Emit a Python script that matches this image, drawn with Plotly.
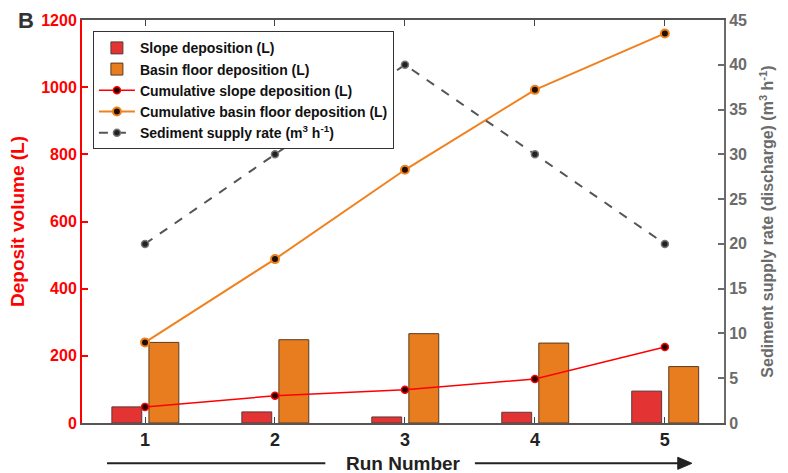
import plotly.graph_objects as go

# Run data
runs = [1, 2, 3, 4, 5]
slope_deposition = [48, 33, 18, 32, 95]            # L per run
basin_deposition = [240, 248, 266, 238, 168]       # L per run
cum_slope = [48, 81, 99, 131, 226]                 # L cumulative
cum_basin = [240, 488, 754, 992, 1160]             # L cumulative
supply_rate = [20, 30, 40, 30, 20]                 # m3/h

left_ticks = [0, 200, 400, 600, 800, 1000, 1200]
right_ticks = [0, 5, 10, 15, 20, 25, 30, 35, 40, 45]

RED = "#ff0000"
GRAY = "#6b6b6b"
FONT = "Liberation Sans"
NARROW = "Liberation Sans Narrow, Liberation Sans"

fig = go.Figure()

fig.add_trace(go.Bar(
    x=runs, y=slope_deposition, name="<b>Slope deposition (L)</b>",
    width=0.23, offset=-0.255,
    marker=dict(color="#e33333", line=dict(color="#5a3a3a", width=1)),
    yaxis="y",
))
fig.add_trace(go.Bar(
    x=runs, y=basin_deposition, name="<b>Basin floor deposition (L)</b>",
    width=0.23, offset=0.03,
    marker=dict(color="#e77d1f", line=dict(color="#5a3a20", width=1)),
    yaxis="y",
))
fig.add_trace(go.Scatter(
    x=runs, y=cum_slope, name="<b>Cumulative slope deposition (L)</b>",
    mode="lines+markers",
    line=dict(color=RED, width=1.5),
    marker=dict(color="#200000", size=7, line=dict(color=RED, width=1.5)),
    yaxis="y",
))
fig.add_trace(go.Scatter(
    x=runs, y=cum_basin, name="<b>Cumulative basin floor deposition (L)</b>",
    mode="lines+markers",
    line=dict(color="#f0821e", width=2),
    marker=dict(color="#201000", size=8, line=dict(color="#f0821e", width=2)),
    yaxis="y",
))
fig.add_trace(go.Scatter(
    x=runs, y=supply_rate, name="<b>Sediment supply rate (m<sup>3</sup> h<sup>-1</sup>)</b>",
    mode="lines+markers",
    line=dict(color="#555555", width=2, dash="dash"),
    marker=dict(color="#222222", size=7, line=dict(color="#777777", width=1.5)),
    yaxis="y2",
))

fig.update_layout(
    width=788, height=473,
    margin=dict(l=82, r=64, t=18, b=50),
    paper_bgcolor="white", plot_bgcolor="white",
    barmode="overlay",
    showlegend=True,
    legend=dict(
        x=0.017, y=0.972, xanchor="left", yanchor="top",
        bordercolor="#333333", borderwidth=1, bgcolor="white",
        font=dict(family=FONT, size=14, color="#111111"),
        tracegroupgap=0, itemwidth=36,
    ),
    xaxis=dict(
        range=[0.515, 5.455], tickvals=runs, ticktext=[str(r) for r in runs],
        ticks="inside", ticklen=6, tickcolor="#444444",
        showline=True, linecolor="#555555", linewidth=1.5, mirror="ticks",
        showgrid=False, zeroline=False,
        tickfont=dict(family=NARROW, size=18, color="#222222", weight="bold"),
    ),
    yaxis=dict(
        range=[0, 1200], tickvals=left_ticks,
        ticks="inside", ticklen=6, tickcolor=RED, tickwidth=1.5,
        showline=True, linecolor=RED, linewidth=2,
        showgrid=False, zeroline=False,
        tickfont=dict(family=FONT, size=16, color=RED, weight="bold"),
        title=dict(text="<b>Deposit volume (L)</b>", font=dict(family=FONT, size=19, color=RED), standoff=12),
    ),
    yaxis2=dict(
        range=[0, 45], tickvals=right_ticks, overlaying="y", side="right",
        ticks="inside", ticklen=6, tickcolor=GRAY, tickwidth=1.5,
        showline=True, linecolor=GRAY, linewidth=2,
        showgrid=False, zeroline=False,
        tickfont=dict(family=FONT, size=16, color=GRAY, weight="bold"),
        title=dict(text="<b>Sediment supply rate (discharge) (m<sup>3</sup> h<sup>-1</sup>)</b>",
                   font=dict(family=FONT, size=16, color=GRAY), standoff=16),
    ),
    font=dict(family=FONT),
)

# panel letter
fig.add_annotation(text="<b>B</b>", xref="paper", yref="paper", x=-0.088, y=1.0,
                   xanchor="center", yanchor="middle", showarrow=False,
                   font=dict(family=FONT, size=22, color="#333333"))

# x-axis title flanked by a direction arrow
fig.add_annotation(text="<b>Run Number</b>", xref="paper", yref="paper", x=0.5, y=-0.1,
                   xanchor="center", yanchor="middle", showarrow=False,
                   font=dict(family=NARROW, size=19, color="#222222"))
fig.add_shape(type="line", xref="paper", yref="paper", x0=0.039, x1=0.379, y0=-0.1, y1=-0.1,
              line=dict(color="#222222", width=2))
fig.add_shape(type="line", xref="paper", yref="paper", x0=0.612, x1=0.935, y0=-0.1, y1=-0.1,
              line=dict(color="#222222", width=2))
fig.add_shape(type="path", xref="paper", yref="paper",
              path="M 0.928 -0.085 L 0.95 -0.1 L 0.928 -0.115 Z",
              fillcolor="#222222", line=dict(color="#222222", width=1))

fig.write_html("out.html")
